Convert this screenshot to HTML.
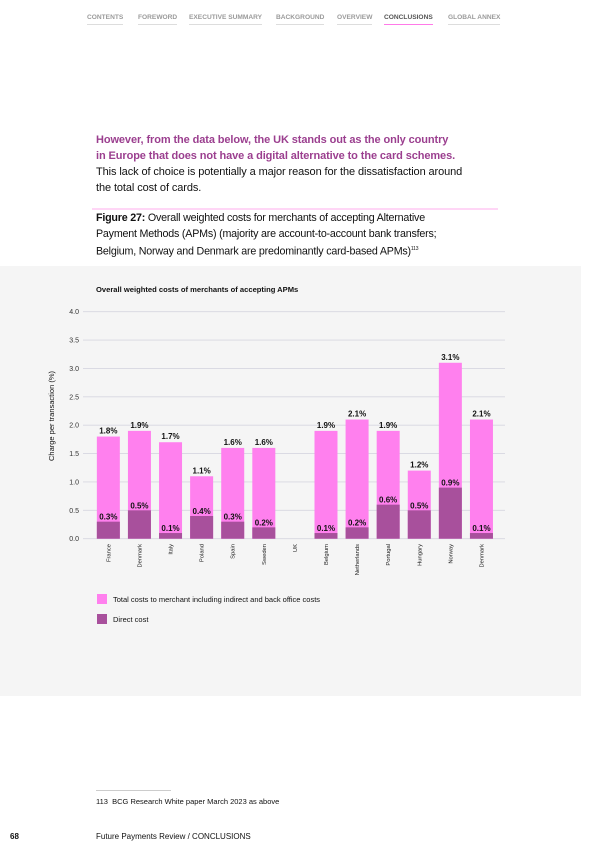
<!DOCTYPE html>
<html><head><meta charset="utf-8"><style>
body{margin:0;width:593px;height:862px;background:#fff;font-family:"Liberation Sans",sans-serif;position:relative;overflow:hidden}
.nav{position:absolute;top:14px;font-size:6.6px;color:#9a9a9a;padding-bottom:3px;border-bottom:1.5px solid #ddd;font-weight:bold}
.abs{position:absolute}
</style></head><body>
<div class="nav" style="left:87px">CONTENTS</div>
<div class="nav" style="left:138px">FOREWORD</div>
<div class="nav" style="left:189px">EXECUTIVE SUMMARY</div>
<div class="nav" style="left:276px">BACKGROUND</div>
<div class="nav" style="left:337px">OVERVIEW</div>
<div class="nav" style="left:384px;color:#555;border-color:#ff7ae8">CONCLUSIONS</div>
<div class="nav" style="left:448px">GLOBAL ANNEX</div>

<div class="abs" style="left:96px;top:132px;font-size:11px;line-height:16px;color:#111;letter-spacing:-0.1px;white-space:nowrap">
<b style="color:#9b3f8f">However, from the data below, the UK stands out as the only country<br>in Europe that does not have a digital alternative to the card schemes.</b><br>This lack of choice is potentially a major reason for the dissatisfaction around<br>the total cost of cards.</div>
<div class="abs" style="left:92px;top:208px;width:406px;height:1.5px;background:#ffd6f6"></div>
<div class="abs" style="left:96px;top:211px;font-size:10.7px;line-height:15.5px;color:#111;letter-spacing:-0.2px;white-space:nowrap"><b>Figure 27:</b> Overall weighted costs for merchants of accepting Alternative<br>Payment Methods (APMs) (majority are account-to-account bank transfers;<br>Belgium, Norway and Denmark are predominantly card-based APMs)<sup style="font-size:5px">113</sup></div>

<div class="abs" style="left:0;top:266px;width:581px;height:430px;background:#f5f5f5"></div>
<svg class="abs" style="left:0;top:0" width="593" height="862" id="chart">
<text x="96" y="292" font-size="7.6" font-weight="bold" fill="#111" font-family="Liberation Sans">Overall weighted costs of merchants of accepting APMs</text>
<text transform="translate(54,416) rotate(-90)" text-anchor="middle" font-size="7.5" fill="#111" font-family="Liberation Sans">Charge per transaction (%)</text>
<rect x="97" y="594" width="10" height="10" fill="#ff80ee"/>
<text x="113" y="602" font-size="7.5" fill="#111" font-family="Liberation Sans">Total costs to merchant including indirect and back office costs</text>
<rect x="97" y="614" width="10" height="10" fill="#a8509c"/>
<text x="113" y="622" font-size="7.5" fill="#111" font-family="Liberation Sans">Direct cost</text>
</svg>

<div class="abs" style="left:96px;top:790px;width:75px;height:1px;background:#ccc"></div>
<div class="abs" style="left:96px;top:797px;font-size:7.5px;color:#111">113&nbsp;&nbsp;BCG Research White paper March 2023 as above</div>
<div class="abs" style="left:10px;top:832px;font-size:8px;font-weight:bold;color:#111">68</div>
<div class="abs" style="left:96px;top:832px;font-size:8px;color:#111">Future Payments Review / CONCLUSIONS</div>

<script>
const categories=["France","Denmark","Italy","Poland","Spain","Sweden","UK","Belgium","Netherlands","Portugal","Hungary","Norway","Denmark"];
const totalCosts=[1.8,1.9,1.7,1.1,1.6,1.6,null,1.9,2.1,1.9,1.2,3.1,2.1];
const directCosts=[0.3,0.5,0.1,0.4,0.3,0.2,null,0.1,0.2,0.6,0.5,0.9,0.1];
const yTicks=[0,0.5,1,1.5,2,2.5,3,3.5,4];
const svg=document.getElementById('chart');
const NS='http://www.w3.org/2000/svg';
const gx0=83,gx1=505,bx0=92.8,bx1=497,yBase=538.7,yTop=311.7,yMax=4;
const y=v=>yBase-(v/yMax)*(yBase-yTop);
const step=(bx1-bx0)/categories.length;
const xc=i=>bx0+step*(i+0.5);
const bw=23;
function mk(tag,attrs){const e=document.createElementNS(NS,tag);for(const k in attrs)e.setAttribute(k,attrs[k]);svg.appendChild(e);return e;}
yTicks.forEach(t=>{
  const l=mk('line',{x1:gx0,x2:gx1,y1:y(t),y2:y(t),stroke:'#d6d6e0','stroke-width':0.8});
  
  
  const tx=mk('text',{x:79,y:y(t)+2.5,'text-anchor':'end','font-size':7,fill:'#333','font-family':'Liberation Sans'});
  tx.textContent=t.toFixed(1);
  
  
});
categories.forEach((c,i)=>{
  const cx=xc(i);
  if(totalCosts[i]!=null){
    const r=mk('rect',{x:cx-bw/2,y:y(totalCosts[i]),width:bw,height:yBase-y(totalCosts[i]),fill:'#ff80ee'});
    
    
    const d=mk('rect',{x:cx-bw/2,y:y(directCosts[i]),width:bw,height:yBase-y(directCosts[i]),fill:'#a8509c'});
    
    
    const t1=mk('text',{x:cx,y:y(totalCosts[i])-3,'text-anchor':'middle','font-size':8,'font-weight':'bold',fill:'#111','font-family':'Liberation Sans'});
    t1.textContent=totalCosts[i].toFixed(1)+'%';
    
    
    const t2=mk('text',{x:cx,y:y(directCosts[i])-2,'text-anchor':'middle','font-size':8,'font-weight':'bold',fill:'#111','font-family':'Liberation Sans'});
    t2.textContent=directCosts[i].toFixed(1)+'%';
    
    
  }
  const lb=mk('text',{transform:`translate(${cx+2},544) rotate(-90)`,'text-anchor':'end','font-size':5.8,fill:'#222','font-family':'Liberation Sans'});
  lb.textContent=c;
  
  
});
</script>
</body></html>
